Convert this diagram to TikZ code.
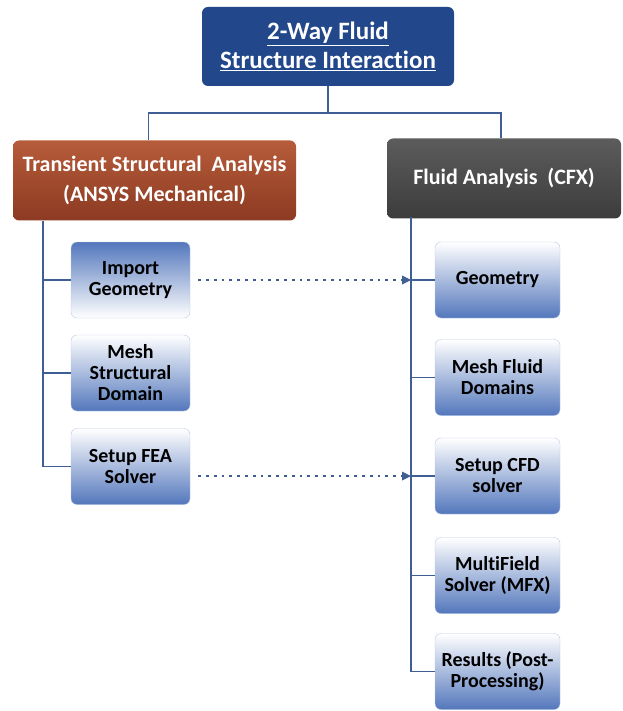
\documentclass[tikz,border=0pt]{standalone}
\usepackage{fontspec}
\setmainfont{Carlito}[Ligatures=NoCommon]
\usetikzlibrary{arrows.meta}

\definecolor{topblue}{HTML}{22478B}
\definecolor{rusttop}{HTML}{B65C3A}
\definecolor{rustbot}{HTML}{8C3A22}
\definecolor{graytop}{HTML}{5C5C5C}
\definecolor{graybot}{HTML}{3C3C3C}
\definecolor{stepblue}{HTML}{5377BC}
\definecolor{linkblue}{HTML}{3F5E94}

\begin{document}
\begin{tikzpicture}[x=1pt, y=-1pt,
    box/.style={rounded corners=6pt, align=center, inner sep=0pt},
    mainbox/.style={box, fill=topblue, text=white, minimum width=252pt, minimum height=79pt,
        font=\bfseries\fontsize{25}{29}\selectfont},
    headbox/.style={box, text=white, minimum height=80pt,
        font=\bfseries\fontsize{22}{30}\selectfont},
    stepbox/.style={box, top color=white, bottom color=stepblue, draw=stepblue!40,
        minimum height=76pt, font=\bfseries\fontsize{20}{21}\selectfont},
    link/.style={draw=linkblue, line width=1.5pt},
    flow/.style={draw=linkblue, line width=2.8pt, dash pattern=on 2.8pt off 5pt,
        -{Triangle[length=9pt, width=9pt, line width=0pt]}}
  ]

    % keep the page the size of the reference
    \useasboundingbox (0,0) rectangle (622,711);

    % top of the tree
    \node[mainbox] (fsi) at (328,46.5) {\underline{2-Way Fluid}\\ \underline{Structure Interaction}};

    % the two analyses
    \node[headbox, minimum width=283pt, top color=rusttop, bottom color=rustbot] (solid) at (154.5,180.5)
        {Transient Structural \ Analysis\\(ANSYS Mechanical)};
    \node[headbox, minimum width=234pt, top color=graytop, bottom color=graybot] (fluid) at (504,178.5)
        {Fluid Analysis \ (CFX)};

    % structural steps
    \node[stepbox, minimum width=119pt, top color=stepblue, bottom color=white] (import) at (130.5,280) {Import\\Geometry};
    \node[stepbox, minimum width=119pt] (meshs) at (130.5,373) {Mesh\\Structural\\Domain};
    \node[stepbox, minimum width=119pt] (fea) at (130.5,466.5) {Setup FEA\\Solver};

    % fluid steps
    \node[stepbox, minimum width=125pt] (geom) at (497.5,280) {Geometry};
    \node[stepbox, minimum width=125pt] (meshf) at (497.5,377.5) {Mesh Fluid\\Domains};
    \node[stepbox, minimum width=125pt] (cfd) at (497.5,476) {Setup CFD\\solver};
    \node[stepbox, minimum width=125pt] (mfx) at (497.5,575.5) {MultiField\\Solver (MFX)};
    \node[stepbox, minimum width=125pt] (post) at (497.5,671.5) {Results (Post-\\Processing)};

    % tree lines
    \draw[link] (fsi.south) -- ++(0,27) coordinate (bus);
    \draw[link] (bus) -| ([xshift=-6pt]solid.north);
    \draw[link] (bus) -| ([xshift=-3pt]fluid.north);

    \coordinate (ltrunk) at (43,221);
    \coordinate (rtrunk) at (411,217);
    \foreach \n in {import, meshs, fea}
        \draw[link] (ltrunk) |- (\n.west);
    \foreach \n in {geom, meshf, cfd, mfx, post}
        \draw[link] (rtrunk) |- (\n.west);

    % data passed between the two solvers
    \draw[flow] ([xshift=8pt]import.east) -- (import.east -| rtrunk);
    \draw[flow] ([xshift=8pt]fea.east |- cfd.west) -- (cfd.west -| rtrunk);

\end{tikzpicture}
\end{document}
